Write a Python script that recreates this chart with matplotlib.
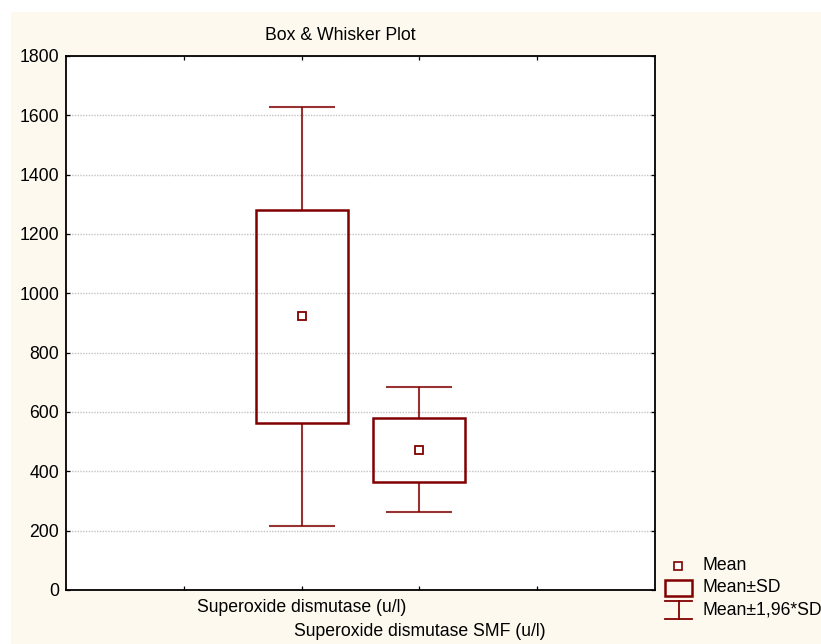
import matplotlib
matplotlib.use("Agg")
import matplotlib.pyplot as plt
from matplotlib.patches import Rectangle
from matplotlib.lines import Line2D

plt.rcParams["font.family"] = ["Liberation Sans", "DejaVu Sans"]
plt.rcParams["font.size"] = 12.7

# Summary statistics for the two variables
labels = ["Superoxide dismutase (u/l)", "Superoxide dismutase SMF (u/l)"]
positions = [2, 3]
means = [922, 473]
sds = [360, 108]
z = 1.96

RED = "#800000"
CREAM = "#FDF9EF"
W, H = 821, 644
FS = 12.7

fig = plt.figure(figsize=(W / 100, H / 100), dpi=100, facecolor="white")


def fx(x):
    return x / W


def fy(y):
    return 1 - y / H


# cream panel behind everything, leaving a thin white margin top/left
fig.patches.append(Rectangle((fx(11), 0), 1 - fx(11), fy(12), transform=fig.transFigure,
                             facecolor=CREAM, edgecolor="none", zorder=-10))

ax = fig.add_axes([fx(66), fy(590), fx(655) - fx(66), fy(56) - fy(590)])
ax.set_facecolor("white")
ax.set_xlim(0, 5)
ax.set_ylim(0, 1800)
ax.set_yticks(range(0, 1801, 200))
ax.set_xticks([1, 2, 3, 4])
ax.set_xticklabels([])
ax.tick_params(direction="in", length=3, top=True, right=True, width=0.9, labelsize=FS, pad=5)
ax.grid(axis="y", color="#c4c4c4", linestyle=(0, (1, 1)), linewidth=1.0)
ax.set_axisbelow(True)
for sp in ax.spines.values():
    sp.set_linewidth(1.3)

for pos, m, s in zip(positions, means, sds):
    lo, hi = m - z * s, m + z * s
    ax.vlines(pos, lo, m - s, color=RED, lw=1.5, alpha=0.8)
    ax.vlines(pos, m + s, hi, color=RED, lw=1.5, alpha=0.8)
    ax.hlines([lo, hi], pos - 0.28, pos + 0.28, color=RED, lw=1.5, alpha=0.8)
    ax.bar(pos, 2 * s, bottom=m - s, width=0.78, fill=False, edgecolor=RED, linewidth=1.8)
    ax.plot(pos, m, marker="s", markersize=6, markerfacecolor="white",
            markeredgecolor=RED, markeredgewidth=1.3, linestyle="none")

# staggered category labels under the axis
ax.text(positions[0], -0.032, labels[0], transform=ax.get_xaxis_transform(),
        ha="center", va="center", fontsize=FS)
ax.text(positions[1], -0.077, labels[1], transform=ax.get_xaxis_transform(),
        ha="center", va="center", fontsize=FS)

fig.text(fx(340), fy(35), "Box & Whisker Plot", ha="center", va="center", fontsize=FS)

# legend drawn by hand at the lower right
fig.add_artist(Line2D([fx(678)], [fy(566)], marker="s", markersize=6, markerfacecolor="white",
                      markeredgecolor=RED, markeredgewidth=1.2, linestyle="none",
                      transform=fig.transFigure))
fig.patches.append(Rectangle((fx(665), fy(596)), fx(692) - fx(665), fy(580) - fy(596),
                             transform=fig.transFigure, facecolor="none",
                             edgecolor=RED, linewidth=1.8))
for yy in (601, 619):
    fig.add_artist(Line2D([fx(665), fx(692)], [fy(yy), fy(yy)], color=RED, lw=1.3,
                          transform=fig.transFigure))
fig.add_artist(Line2D([fx(679), fx(679)], [fy(601), fy(619)], color=RED, lw=1.3,
                      transform=fig.transFigure))
for yy, t in zip((566, 588, 610), ("Mean", "Mean±SD", "Mean±1,96*SD")):
    fig.text(fx(702), fy(yy), t, ha="left", va="center", fontsize=FS)

fig.savefig("out.png", dpi=100, facecolor=fig.get_facecolor())
